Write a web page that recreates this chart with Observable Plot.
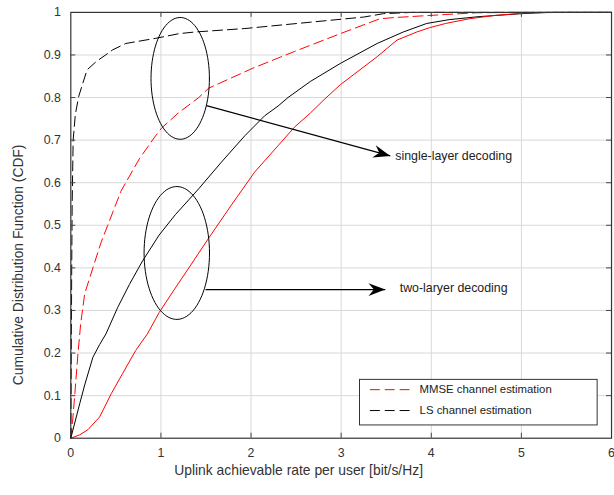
<!DOCTYPE html>
<html><head><meta charset="utf-8">
<script src="https://cdn.jsdelivr.net/npm/d3@7"></script>
<script src="https://cdn.jsdelivr.net/npm/@observablehq/plot@0.6"></script>
<style>html,body{margin:0;padding:0;overflow:hidden;background:#fff;} svg{display:block}</style>
</head><body><div id="chart"></div>
<script>
// ---- axis ticks ----
const xTicks = [0, 1, 2, 3, 4, 5, 6];
const yTicks = [0, 0.1, 0.2, 0.3, 0.4, 0.5, 0.6, 0.7, 0.8, 0.9, 1];
const xLabel = "Uplink achievable rate per user [bit/s/Hz]";
const yLabel = "Cumulative Distribution Function (CDF)";

// ---- series ----
// MMSE channel estimation, single-layer decoding (red dashed)
const mmseSingleX = [0, 0.02, 0.045, 0.08, 0.11, 0.155, 0.245, 0.336, 0.41, 0.556, 0.76, 0.94, 1.01, 1.2, 1.42, 1.53, 2.02, 2.48, 2.99, 3.43, 3.6, 4.16, 4.5, 5, 6];
const mmseSingleY = [0, 0.04, 0.105, 0.2, 0.27, 0.34, 0.40, 0.46, 0.50, 0.58, 0.656, 0.71, 0.729, 0.765, 0.80, 0.822, 0.869, 0.908, 0.95, 0.985, 0.988, 0.995, 0.999, 1, 1];
// LS channel estimation, single-layer decoding (black dashed)
const lsSingleX = [0, 0.005, 0.01, 0.015, 0.026, 0.05, 0.088, 0.18, 0.28, 0.465, 0.61, 0.94, 1.2, 1.38, 1.93, 2.66, 3.25, 3.47, 3.8, 6];
const lsSingleY = [0, 0.2, 0.4, 0.55, 0.70, 0.76, 0.803, 0.865, 0.884, 0.912, 0.927, 0.939, 0.95, 0.954, 0.962, 0.977, 0.989, 0.997, 1, 1];
// LS channel estimation, two-layer decoding (black solid)
const lsTwoX = [0, 0.1, 0.154, 0.245, 0.32, 0.39, 0.52, 0.65, 0.795, 0.98, 1.16, 1.31, 1.42, 1.67, 1.93, 2.15, 2.3, 2.41, 2.66, 2.99, 3.4, 3.69, 3.95, 4.2, 4.53, 5.0, 5.3, 6];
const lsTwoY = [0, 0.082, 0.125, 0.19, 0.22, 0.245, 0.307, 0.361, 0.416, 0.477, 0.525, 0.56, 0.586, 0.648, 0.71, 0.757, 0.78, 0.80, 0.838, 0.88, 0.927, 0.954, 0.974, 0.983, 0.99, 0.997, 1, 1];
// MMSE channel estimation, two-layer decoding (red solid)
const mmseTwoX = [0, 0.1, 0.19, 0.32, 0.45, 0.575, 0.72, 0.85, 0.98, 1.16, 1.31, 1.53, 1.78, 2.04, 2.3, 2.48, 2.66, 2.81, 2.99, 3.4, 3.62, 3.84, 3.98, 4.16, 4.42, 4.71, 5.08, 5.5, 6];
const mmseTwoY = [0, 0.008, 0.02, 0.05, 0.105, 0.152, 0.206, 0.245, 0.295, 0.353, 0.40, 0.47, 0.547, 0.625, 0.687, 0.73, 0.764, 0.795, 0.83, 0.896, 0.935, 0.954, 0.964, 0.974, 0.985, 0.993, 0.999, 1, 1];

const legendNames = ["MMSE channel estimation", "LS channel estimation"];
const annotationTexts = ["single-layer decoding", "two-laryer decoding"];

// ---- build tables ----
const zip = (xs, ys) => xs.map((x, i) => ({x, y: ys[i]}));
const series = [
  {data: zip(mmseSingleX, mmseSingleY), color: "#ff0000", dash: "10,5"},
  {data: zip(lsSingleX, lsSingleY), color: "#000000", dash: "10,5"},
  {data: zip(lsTwoX, lsTwoY), color: "#000000", dash: null},
  {data: zip(mmseTwoX, mmseTwoY), color: "#ff0000", dash: null}
];

// annotation ellipses (center / radii in data units)
const ellipse = (cx, cy, rx, ry) => d3.range(0, 361, 4).map(a => ({x: cx + rx * Math.cos(a * Math.PI / 180), y: cy + ry * Math.sin(a * Math.PI / 180)}));
const ellipses = [ellipse(1.214, 0.845, 0.324, 0.143), ellipse(1.176, 0.435, 0.363, 0.156)];
const arrows = [
  {x1: 1.505, y1: 0.781, x2: 3.545, y2: 0.663, angle: 15.4},
  {x1: 1.495, y1: 0.349, x2: 3.490, y2: 0.349, angle: 0}
];
const dart = {draw(ctx) { ctx.moveTo(0, 0); ctx.lineTo(-17, -6.5); ctx.lineTo(-11.5, 0); ctx.lineTo(-17, 6.5); ctx.closePath(); }};

const font = "'Liberation Sans', Arial, Helvetica, sans-serif";
const tx = 5 / 91, ty = 5 / 430;
const inner = yTicks.slice(1, -1), innerX = xTicks.slice(1, -1);

const plot = Plot.plot({
  width: 620, height: 495,
  marginLeft: 71, marginRight: 3, marginTop: 12, marginBottom: 53,
  style: {fontFamily: font, background: "#fff", overflow: "visible"},
  x: {domain: [0, 6]},
  y: {domain: [0, 1]},
  marks: [
    Plot.gridX(innerX, {stroke: "#d8d8d8", strokeOpacity: 1}),
    Plot.gridY(inner, {stroke: "#d8d8d8", strokeOpacity: 1}),
    ...series.map(s => Plot.line(s.data, {x: "x", y: "y", stroke: s.color, strokeWidth: 1, strokeDasharray: s.dash})),
    ...ellipses.map(e => Plot.line(e, {x: "x", y: "y", stroke: "#000", strokeWidth: 1})),
    Plot.link(arrows, {x1: "x1", y1: "y1", x2: "x2", y2: "y2", stroke: "#000", strokeWidth: 1.1}),
    Plot.dot(arrows, {x: "x2", y: "y2", symbol: dart, fill: "#000", stroke: "none", rotate: "angle", r: 5}),
    Plot.text([annotationTexts[0]], {x: 3.6, y: 0.663, text: d => d, textAnchor: "start", fontSize: 12.5, fill: "#222"}),
    Plot.text([annotationTexts[1]], {x: 3.65, y: 0.352, text: d => d, textAnchor: "start", fontSize: 12.5, fill: "#222"}),
    // legend
    Plot.rect([0], {x1: 3.209, x2: 5.846, y1: 0.030, y2: 0.137, fill: "#fff", stroke: "#333", strokeWidth: 1}),
    Plot.link([0], {x1: 3.319, x2: 3.802, y1: 0.114, y2: 0.114, stroke: "#ff0000", strokeDasharray: "10,5"}),
    Plot.link([0], {x1: 3.319, x2: 3.802, y1: 0.065, y2: 0.065, stroke: "#000", strokeDasharray: "10,5"}),
    Plot.text([legendNames[0]], {x: 3.87, y: 0.114, text: d => d, textAnchor: "start", fontSize: 11.5, fill: "#222"}),
    Plot.text([legendNames[1]], {x: 3.87, y: 0.065, text: d => d, textAnchor: "start", fontSize: 11.5, fill: "#222"}),
    // frame and inner ticks
    Plot.frame({stroke: "#333", strokeWidth: 1.2}),
    Plot.ruleX(innerX, {y1: 0, y2: ty, stroke: "#444"}),
    Plot.ruleX(innerX, {y1: 1, y2: 1 - ty, stroke: "#444"}),
    Plot.ruleY(inner, {x1: 0, x2: tx, stroke: "#444"}),
    Plot.ruleY(inner, {x1: 6, x2: 6 - tx, stroke: "#444"}),
    // axes
    Plot.axisX(xTicks, {tickSize: 0, tickPadding: 10, fontSize: 12.5, fill: "#333", label: null, tickFormat: d => String(d)}),
    Plot.axisY(yTicks, {tickSize: 0, tickPadding: 10, fontSize: 12.5, fill: "#333", label: null, tickFormat: d => (d === 0 || d === 1) ? String(d) : d.toFixed(1)}),
    Plot.text([xLabel], {frameAnchor: "bottom", dx: -43, dy: 37, text: d => d, fontSize: 14, fill: "#333"}),
    Plot.text([yLabel], {x: -0.582, y: 0.407, rotate: -90, text: d => d, fontSize: 14, fill: "#333"})
  ]
});
document.getElementById("chart").appendChild(plot);
d3.select(plot).selectAll("text").filter(function() { return this.textContent === yLabel; })
  .attr("textLength", 243).attr("lengthAdjust", "spacingAndGlyphs");
</script>
</body></html>
